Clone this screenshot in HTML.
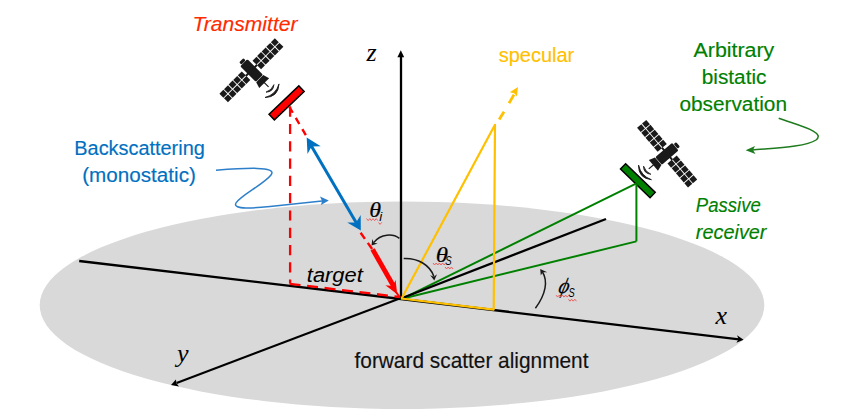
<!DOCTYPE html>
<html><head><meta charset="utf-8">
<style>
html,body{margin:0;padding:0;background:#fff;}
body{width:860px;height:416px;overflow:hidden;}
svg{display:block;}
.cal{font-family:"Liberation Sans",sans-serif;}
.math{font-family:"Liberation Serif",serif;font-style:italic;}
</style></head>
<body>
<svg width="860" height="416" viewBox="0 0 860 416">
<defs>
  <g id="sat">
    <g fill="#1a1a1a">
      <rect x="7.6" y="-6.1" width="5.6" height="5.6"/>
      <rect x="-13.2" y="-6.1" width="5.6" height="5.6"/>
      <rect x="7.6" y="0.4" width="5.6" height="5.6"/>
      <rect x="-13.2" y="0.4" width="5.6" height="5.6"/>
      <rect x="14.1" y="-6.1" width="5.6" height="5.6"/>
      <rect x="-19.7" y="-6.1" width="5.6" height="5.6"/>
      <rect x="14.1" y="0.4" width="5.6" height="5.6"/>
      <rect x="-19.7" y="0.4" width="5.6" height="5.6"/>
      <rect x="20.6" y="-6.1" width="5.6" height="5.6"/>
      <rect x="-26.2" y="-6.1" width="5.6" height="5.6"/>
      <rect x="20.6" y="0.4" width="5.6" height="5.6"/>
      <rect x="-26.2" y="0.4" width="5.6" height="5.6"/>
      <rect x="27.1" y="-6.1" width="5.6" height="5.6"/>
      <rect x="-32.7" y="-6.1" width="5.6" height="5.6"/>
      <rect x="27.1" y="0.4" width="5.6" height="5.6"/>
      <rect x="-32.7" y="0.4" width="5.6" height="5.6"/>
      <rect x="33.6" y="-6.1" width="5.6" height="5.6"/>
      <rect x="-39.2" y="-6.1" width="5.6" height="5.6"/>
      <rect x="33.6" y="0.4" width="5.6" height="5.6"/>
      <rect x="-39.2" y="0.4" width="5.6" height="5.6"/>
      <rect x="-8" y="-1" width="16" height="2"/>
      <rect x="-5" y="-10.8" width="10" height="22" rx="1.3"/>
      <rect x="-3" y="-14.4" width="6" height="3.2" rx="1.2"/>
      <path d="M-5,11.7 L5,11.7 L7,18 L-7,18 Z"/>
    </g>
    <line x1="0.4" y1="17" x2="0.4" y2="23.8" stroke="#1a1a1a" stroke-width="1.2"/>
    <path d="M5.8,26 Q0.2,30.8 -5.1,25.7 Q0.2,28.4 5.8,26 Z" fill="#1a1a1a" stroke="#1a1a1a" stroke-width="0.8"/>
    <path d="M9.9,29.1 Q0,38 -9.6,28.8 Q0,34.4 9.9,29.1 Z" fill="#1a1a1a" stroke="#1a1a1a" stroke-width="0.8"/>
  </g>
</defs>

<!-- ground ellipse -->
<ellipse cx="402" cy="305.2" rx="362.3" ry="103.7" fill="#d9d9d9"/>

<!-- axes -->
<g stroke="#000" stroke-width="2.3" fill="none">
  <line x1="79.2" y1="261" x2="401" y2="299"/>
  <line x1="401" y1="299" x2="739" y2="339.4"/>
  <line x1="401" y1="297.9" x2="176.6" y2="383.1" stroke-width="2.1"/>
  <line x1="401" y1="298.5" x2="401" y2="56"/>
</g>
<g fill="#000">
  <path d="M400.8,50.3 L404.2,57.2 L397.4,57.2 Z"/>
  <path d="M743.6,339.8 L737,335.3 L738.6,339.3 L736.4,342.8 Z"/>
  <path d="M171,385.1 L175.9,379.6 L176.6,383.4 L179,386.5 Z"/>
</g>

<!-- red bar -->
<g transform="translate(286.6,102.9) rotate(-43.7)">
  <rect x="-20.6" y="-3.85" width="41.2" height="7.7" fill="#ff0000" stroke="#000" stroke-width="1.5"/>
</g>
<!-- green bar -->
<g transform="translate(637.85,180.7) rotate(44.1)">
  <rect x="-20.6" y="-3.7" width="41.2" height="7.4" fill="#008000" stroke="#000" stroke-width="1.5"/>
</g>

<!-- green receiver geometry -->
<g stroke="#008000" fill="none" stroke-width="2">
  <line x1="401" y1="299.4" x2="636" y2="183.6"/>
  <line x1="636.4" y1="183.5" x2="636.4" y2="241.4"/>
  <line x1="401" y1="299" x2="636.4" y2="241.4"/>
</g>
<line x1="401" y1="298.5" x2="606" y2="219" stroke="#000" stroke-width="2.3"/>

<!-- yellow specular -->
<g stroke="#ffc000" fill="none" stroke-width="2.2">
  <path d="M401.6,298.5 L495,124.8 L493.7,309.6 L401,298.5" stroke-linejoin="round"/>
  <line x1="499.2" y1="119.6" x2="504" y2="111.7" stroke-width="2.8"/>
  <line x1="509" y1="103.2" x2="514" y2="94.6" stroke-width="2.8"/>
</g>
<path d="M517.9,87 L517,96.6 L514.2,93.2 L509.8,92.3 Z" fill="#ffc000"/>

<!-- red -->
<path d="M290.1,106.6 L290.1,283.6" fill="none" stroke="#ff0000" stroke-width="2.3" stroke-dasharray="10.2,7.1"/>
<line x1="289.6" y1="283.8" x2="400" y2="297" stroke="#ff0000" stroke-width="2.3" stroke-dasharray="11,6.6"/>
<line x1="289.25" y1="106.7" x2="306" y2="135.5" stroke="#ff0000" stroke-width="2.4" stroke-dasharray="7,6"/>
<line x1="360.6" y1="232.7" x2="372.8" y2="250" stroke="#ff0000" stroke-width="2.4" stroke-dasharray="7.5,5"/>
<line x1="372.6" y1="249.4" x2="393.8" y2="286.5" stroke="#ff0000" stroke-width="4.8"/>
<path d="M397.2,294.2 L385.4,285.2 L392.6,286 L395.6,279.9 Z" fill="#ff0000"/>
<line x1="396" y1="292" x2="400" y2="297.5" stroke="#ff0000" stroke-width="2"/>
<!-- blue double arrow -->
<line x1="310.5" y1="144.5" x2="357" y2="224" stroke="#0070c0" stroke-width="3"/>
<path d="M306.7,137.6 L320.7,146.3 L311.6,146.5 L307.5,153.9 Z" fill="#0070c0"/>
<path d="M360.8,230.6 L360.7,214.9 L356,222.4 L347.2,222.4 Z" fill="#0070c0"/>

<!-- satellites -->
<use href="#sat" transform="translate(251.45,70.35) rotate(-45)"/>
<use href="#sat" transform="translate(667.1,153.7) rotate(49.5) scale(-1,1)"/>

<!-- curved arrows -->
<path d="M216,170.2 C245,168 278,166 271,175 C264,184 240,196 236,203 C232,210 255,208 270,206.5 L322,201" fill="none" stroke="#2e7fca" stroke-width="1.5"/>
<path d="M328.8,200.5 L320,196.5 L322,201 L321,205 Z" fill="#2e7fca"/>
<path d="M778.7,118.2 C800,126 826,132 816,140 C806,147 775,148 752,150" fill="none" stroke="#1e7b1e" stroke-width="1.5"/>
<path d="M745.6,150.3 L755,146 L753,150 L755.5,154 Z" fill="#1e7b1e"/>

<!-- angle arcs -->
<g fill="none" stroke="#1a1a1a" stroke-width="1.5">
  <path d="M399.4,238.4 C393,233.5 381,233.5 373.6,242.6"/>
  <path d="M403.7,258.6 C418,258 430,265 433.9,276.5"/>
  <path d="M535.4,308.3 C546,294 548,281 542.5,272"/>
</g>
<g fill="#1a1a1a">
  <path d="M371.5,245.6 L372.3,239 L373.8,242.8 L377.7,243.6 Z"/>
  <path d="M434.3,280.6 L430.2,275.3 L433.9,276.8 L437,274.3 Z"/>
  <path d="M540.2,269.1 L547.2,272.3 L542.6,272.3 L540.8,275.6 Z"/>
</g>

<!-- labels -->
<text class="cal" x="192.5" y="31" font-size="21" font-style="italic" fill="#ff2a00" stroke="#ff2a00" stroke-width="0.15" textLength="105" lengthAdjust="spacingAndGlyphs">Transmitter</text>
<text class="cal" x="74.3" y="154.8" font-size="20" fill="#0070c0" stroke="#0070c0" stroke-width="0.15" textLength="130.5" lengthAdjust="spacingAndGlyphs">Backscattering</text>
<text class="cal" x="82.2" y="182.3" font-size="20" fill="#0070c0" stroke="#0070c0" stroke-width="0.15" textLength="113.7" lengthAdjust="spacingAndGlyphs">(monostatic)</text>
<text class="cal" x="498.7" y="61.5" font-size="20.5" fill="#ffc000" stroke="#ffc000" stroke-width="0.15" textLength="75.6" lengthAdjust="spacingAndGlyphs">specular</text>
<text class="cal" x="693.5" y="56.5" font-size="19.5" fill="#008000" stroke="#008000" stroke-width="0.15" textLength="80.8" lengthAdjust="spacingAndGlyphs">Arbitrary</text>
<text class="cal" x="701.8" y="83.5" font-size="19.5" fill="#008000" stroke="#008000" stroke-width="0.15" textLength="64.6" lengthAdjust="spacingAndGlyphs">bistatic</text>
<text class="cal" x="679.4" y="111.2" font-size="19.5" fill="#008000" stroke="#008000" stroke-width="0.15" textLength="107.6" lengthAdjust="spacingAndGlyphs">observation</text>
<text class="cal" x="695.8" y="212.4" font-size="20" font-style="italic" fill="#008000" stroke="#008000" stroke-width="0.15" textLength="65" lengthAdjust="spacingAndGlyphs">Passive</text>
<text class="cal" x="695.8" y="239" font-size="20" font-style="italic" fill="#008000" stroke="#008000" stroke-width="0.15" textLength="70.7" lengthAdjust="spacingAndGlyphs">receiver</text>
<text class="cal" x="306.8" y="281.7" font-size="20" font-style="italic" fill="#000" stroke="#000" stroke-width="0.05" textLength="56" lengthAdjust="spacingAndGlyphs">target</text>
<text class="cal" x="354.5" y="368" font-size="21.5" fill="#111" stroke="#111" stroke-width="0.15" textLength="234" lengthAdjust="spacingAndGlyphs">forward scatter alignment</text>

<text class="math" x="366.5" y="60.5" font-size="26" fill="#000">z</text>
<text class="math" x="715.5" y="323.5" font-size="26" fill="#000">x</text>
<text class="math" x="177" y="362" font-size="26" fill="#000">y</text>
<text class="math" x="369.3" y="216.6" font-size="22" fill="#000" stroke="#000" stroke-width="0.2" textLength="11.8" lengthAdjust="spacingAndGlyphs">θ</text>
<text class="cal" x="379.3" y="221" font-size="13.5" font-style="italic" fill="#000">i</text>
<text class="math" x="435.8" y="261.7" font-size="22" fill="#000" stroke="#000" stroke-width="0.2" textLength="12.3" lengthAdjust="spacingAndGlyphs">θ</text>
<text class="cal" x="445.3" y="265" font-size="13" font-style="italic" fill="#000" textLength="6.4" lengthAdjust="spacingAndGlyphs">S</text>
<g transform="translate(564,288) skewX(-14) translate(-564,-288)"><text class="math" x="559" y="293.5" font-size="22" fill="#000" stroke="#000" stroke-width="0.2" textLength="10.5" lengthAdjust="spacingAndGlyphs">ϕ</text></g>
<text class="cal" x="568.6" y="297" font-size="12.5" font-style="italic" fill="#000" textLength="6.2" lengthAdjust="spacingAndGlyphs">S</text>
<polyline points="366.6,218.6 368.2,220.6 369.8,218.6 371.4,220.6 373.0,218.6 374.6,220.6 376.2,218.6 377.8,220.6" fill="none" stroke="#f05050" stroke-width="0.9"/>
<polyline points="378.5,222.4 380.1,224.4 381.7,222.4" fill="none" stroke="#f05050" stroke-width="0.9"/>
<polyline points="433.0,263.0 434.6,265.0 436.2,263.0 437.8,265.0 439.4,263.0 441.0,265.0 442.6,263.0 444.2,265.0 445.8,263.0" fill="none" stroke="#f05050" stroke-width="0.9"/>
<polyline points="445.0,267.0 446.6,269.0 448.2,267.0 449.8,269.0 451.4,267.0 453.0,269.0" fill="none" stroke="#f05050" stroke-width="0.9"/>
<polyline points="556.0,295.1 557.6,297.1 559.2,295.1 560.8,297.1 562.4,295.1 564.0,297.1 565.6,295.1 567.2,297.1 568.8,295.1" fill="none" stroke="#f05050" stroke-width="0.9"/>
<polyline points="568.4,299.2 570.0,301.2 571.6,299.2 573.2,301.2 574.8,299.2 576.4,301.2" fill="none" stroke="#f05050" stroke-width="0.9"/>
</svg>
</body></html>
